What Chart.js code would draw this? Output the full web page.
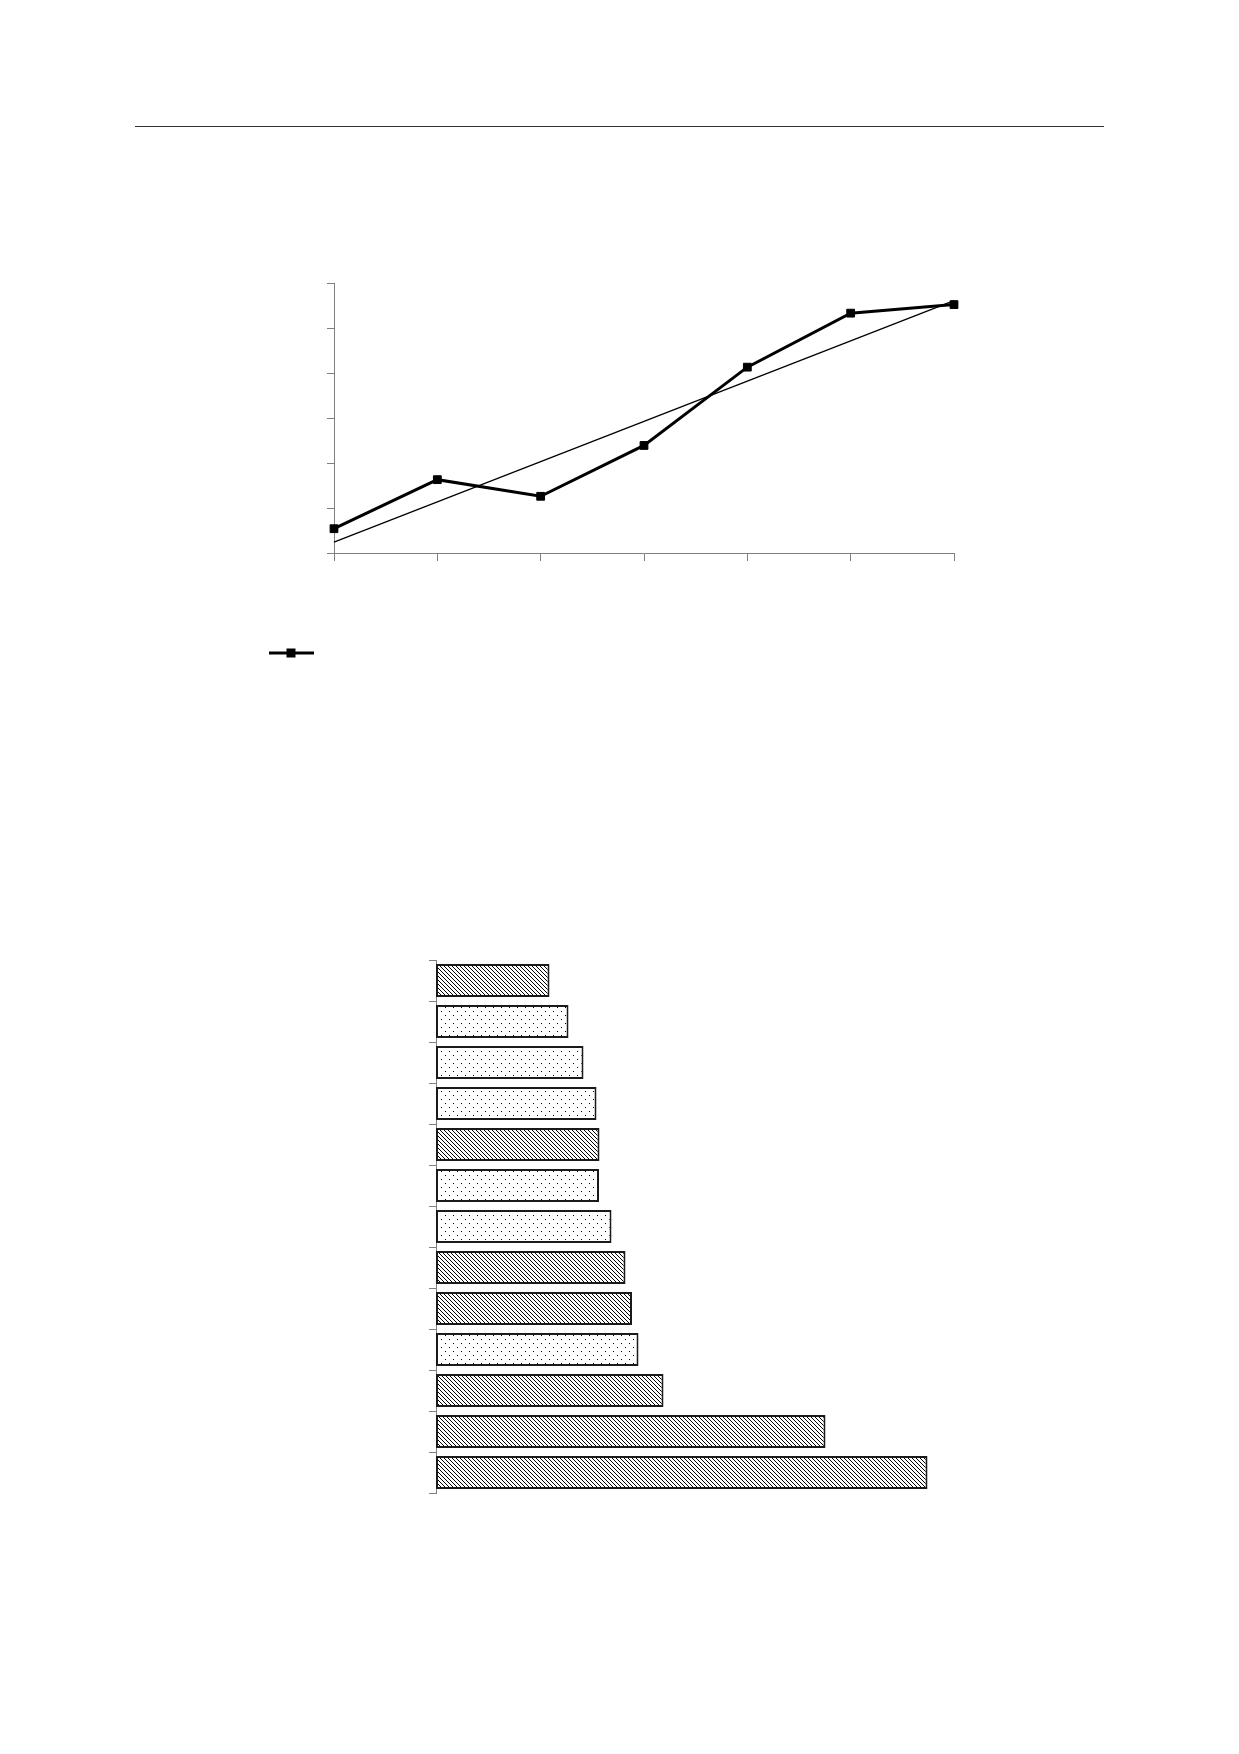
<!DOCTYPE html>
<html>
<head>
<meta charset="utf-8">
<script src="https://cdn.jsdelivr.net/npm/chart.js@4.4.1/dist/chart.umd.min.js"></script>
<style>
  html, body { margin: 0; padding: 0; background: #fff; }
  body { width: 1239px; height: 1754px; position: relative; overflow: hidden; }
  #rule { position: absolute; left: 135px; top: 126px; width: 969px; height: 0; border-top: 1.5px solid #333; }
  #lineBox { position: absolute; left: 250px; top: 260px; }
  #barBox { position: absolute; left: 420px; top: 950px; }
</style>
</head>
<body>
<div id="rule"></div>
<div id="lineBox"><canvas id="lineChart" width="720" height="409"></canvas></div>
<div id="barBox"><canvas id="barChart" width="530" height="560"></canvas></div>

<script>
// --- adatok ---
const periods = ['1', '2', '3', '4', '5', '6', '7'];
const seriesValues = [0.54, 1.63, 1.26, 2.39, 4.13, 5.33, 5.52];
const trendValues = [0.24, null, null, null, null, null, 5.61];
const yMin = 0, yMax = 6, yStep = 1;

const barCategories = ['1', '2', '3', '4', '5', '6', '7', '8', '9', '10', '11', '12', '13'];
const barValues = [113.5, 132.5, 147.5, 160.5, 163.5, 163, 175.5, 189.5, 196, 202.5, 227.5, 389.5, 491.5];
const barGroups = ['A', 'B', 'B', 'B', 'A', 'B', 'B', 'A', 'A', 'B', 'A', 'A', 'A'];
const barMax = 500;

const axisGray = '#808080';

// --- minták ---
function makeHatch() {
    const c = document.createElement('canvas');
    c.width = 4; c.height = 4;
    const g = c.getContext('2d');
    g.fillStyle = '#fff'; g.fillRect(0, 0, 4, 4);
    g.fillStyle = '#000';
    for (let i = 0; i < 4; i++) g.fillRect(i, i, 1, 1);
    return g.createPattern(c, 'repeat');
}

function makeDots() {
    const c = document.createElement('canvas');
    c.width = 8; c.height = 8;
    const g = c.getContext('2d');
    g.fillStyle = '#fff'; g.fillRect(0, 0, 8, 8);
    g.fillStyle = '#000';
    g.fillRect(1, 1, 1, 1);
    g.fillRect(5, 5, 1, 1);
    return g.createPattern(c, 'repeat');
}

function makeLegendSample() {
    const c = document.createElement('canvas');
    c.width = 45; c.height = 13;
    const g = c.getContext('2d');
    g.fillStyle = '#000';
    g.fillRect(0, 5, 45, 3);
    g.fillRect(18, 2, 9, 9);
    return c;
}

const hatch = makeHatch();
const dots = makeDots();
const legendSample = makeLegendSample();

function axisOpts(tickLength) {
    return {
        grid: { display: true, drawOnChartArea: false, drawTicks: true, tickLength: tickLength, color: axisGray, lineWidth: 1 },
        border: { display: true, color: axisGray, width: 1 },
        ticks: { display: false }
    };
}

// --- vonaldiagram ---
new Chart(document.getElementById('lineChart'), {
    type: 'line',
    data: {
        labels: periods,
        datasets: [
            {
                data: seriesValues,
                borderColor: '#000',
                borderWidth: 3,
                pointStyle: 'rect',
                pointRadius: 5.5,
                pointBackgroundColor: '#000',
                pointBorderColor: '#000',
                pointBorderWidth: 1,
                tension: 0,
                clip: false
            },
            {
                data: trendValues,
                borderColor: '#000',
                borderWidth: 1.3,
                pointRadius: 0,
                spanGaps: true,
                tension: 0,
                clip: false
            }
        ]
    },
    options: {
        responsive: false,
        animation: false,
        layout: { padding: { left: 9, top: 23, right: 16, bottom: 0 } },
        plugins: {
            tooltip: { enabled: false },
            legend: {
                display: true,
                position: 'bottom',
                align: 'start',
                labels: {
                    usePointStyle: true,
                    pointStyleWidth: 44,
                    boxHeight: 12,
                    padding: 10,
                    font: { size: 12 },
                    generateLabels: () => [{
                        text: '',
                        pointStyle: legendSample,
                        fillStyle: '#000',
                        strokeStyle: '#000',
                        lineWidth: 0,
                        hidden: false,
                        datasetIndex: 0
                    }]
                }
            }
        },
        scales: {
            x: Object.assign(axisOpts(8), {
                afterFit: (scale) => { scale.height = 84; }
            }),
            y: Object.assign(axisOpts(7), {
                min: yMin,
                max: yMax,
                ticks: { display: false, stepSize: yStep },
                afterFit: (scale) => { scale.width = 75; }
            })
        }
    }
});

// --- sávdiagram ---
new Chart(document.getElementById('barChart'), {
    type: 'bar',
    data: {
        labels: barCategories,
        datasets: [{
            data: barValues,
            backgroundColor: barGroups.map(g => g === 'A' ? hatch : dots),
            borderColor: '#1a1a1a',
            borderWidth: 2,
            borderSkipped: false,
            barPercentage: 0.9,
            categoryPercentage: 0.9
        }]
    },
    options: {
        indexAxis: 'y',
        responsive: false,
        animation: false,
        layout: { padding: { left: 0, top: 10, right: 14, bottom: 17 } },
        plugins: { legend: { display: false }, tooltip: { enabled: false } },
        scales: {
            x: { display: false, min: 0, max: barMax },
            y: Object.assign(axisOpts(7), {
                grid: { display: true, drawOnChartArea: false, drawTicks: true, tickLength: 7, color: axisGray, lineWidth: 1, offset: true },
                afterFit: (scale) => { scale.width = 16; }
            })
        }
    }
});
</script>
</body>
</html>
